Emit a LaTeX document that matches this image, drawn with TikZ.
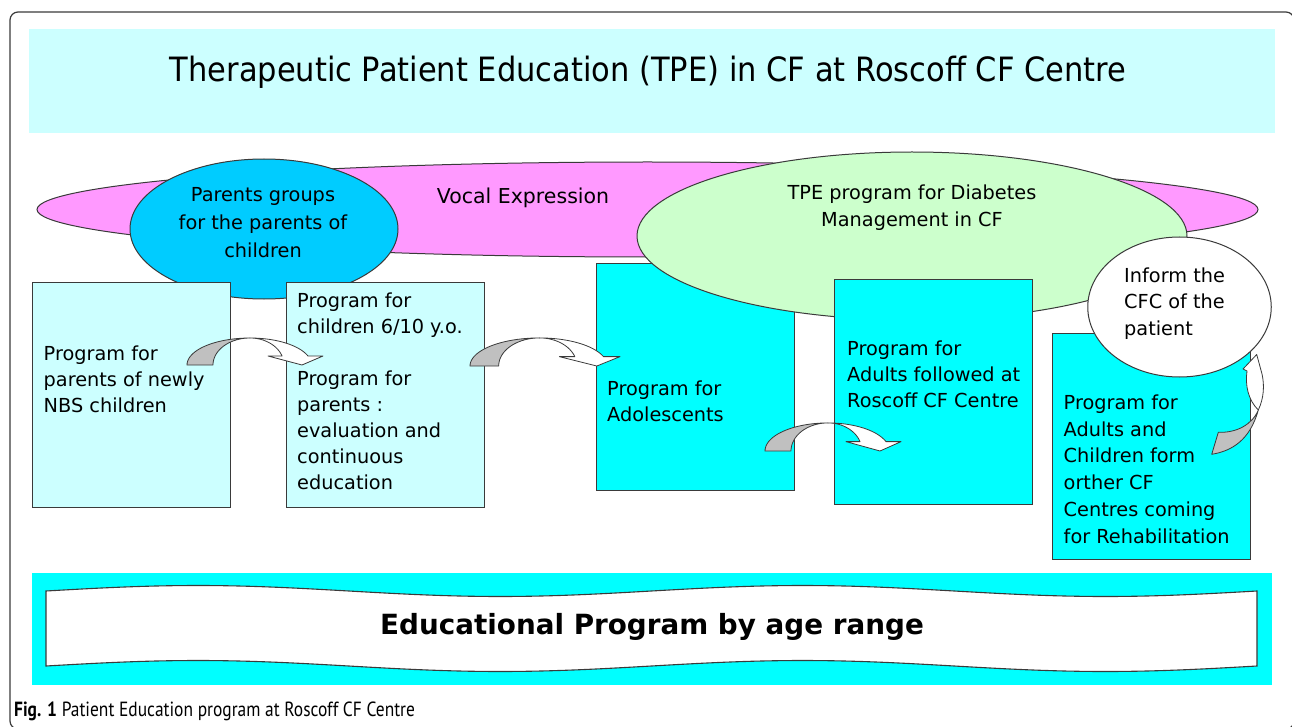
\documentclass[tikz,border=0pt]{standalone}
\usepackage{fontspec}
\setmainfont{DejaVu Sans}
\newfontfamily\titlefont[FakeStretch=0.91]{DejaVu Sans}
\newfontfamily\capfont[FakeStretch=0.85]{PT Sans}
\usetikzlibrary{shapes.geometric}

\definecolor{paleCyan}{HTML}{CCFFFF}
\definecolor{aqua}{HTML}{00FFFF}
\definecolor{pinkish}{HTML}{FF99FF}
\definecolor{skyBlue}{HTML}{00CCFF}
\definecolor{paleGreen}{HTML}{CCFFCC}
\definecolor{arrowGray}{HTML}{C0C0C0}
\definecolor{edge}{HTML}{3A3A3A}

% stacked lines whose first baseline is the node's base
\newcommand\leftlines[1]{\begin{tabular}[t]{@{}l@{}}#1\end{tabular}}
\newcommand\midlines[1]{\begin{tabular}[t]{@{}c@{}}#1\end{tabular}}

\tikzset{
  box/.style={draw=edge, line width=1pt, rectangle, inner sep=0pt, minimum width=198pt},
  oval/.style={draw=edge, line width=1pt, ellipse, inner sep=0pt},
  body/.style={inner sep=0pt, font=\fontsize{19.3}{26}\selectfont},
  ribbon/.style={draw=edge, line width=0.8pt, line join=round},
}

% curved block arrow: grey rising tail, white falling part with head
\newcommand\ribbonarrow[4]{%
  \begin{scope}[shift={(#1,#2)}, xscale=#3, yscale=-#4]
    \filldraw[ribbon, fill=arrowGray] (0,0)
      -- plot[domain=180:90, samples=25] ({63+63*cos(\x)},{27*sin(\x)})
      -- plot[domain=90:180, samples=25] ({63+37*cos(\x)},{27*sin(\x)})
      -- cycle;
    \filldraw[ribbon, fill=white] (63,27)
      -- plot[domain=90:19.47, samples=25] ({63+61.5*cos(\x)},{27*sin(\x)})
      -- (136,9) -- (115,0) -- (81,9)
      -- plot[domain=19.47:90, samples=25] ({63+34*cos(\x)},{27*sin(\x)})
      -- cycle;
  \end{scope}}

\begin{document}
\begin{tikzpicture}[x=1pt, y=-1pt]
  \useasboundingbox (0,0) rectangle (1292,727);

  % outer frame
  \draw[edge, line width=1.2pt, rounded corners=8pt] (10,729) rectangle (1294,12);

  % title band
  \fill[paleCyan] (29,29) rectangle (1275,133.3);
  \node[anchor=base, inner sep=0pt, font=\titlefont\fontsize{33.5}{40}\selectfont] (title) at (648,81.7)
    {Therapeutic Patient Education (TPE) in CF at Roscoff CF Centre};

  % bottom band with wavy banner
  \fill[aqua] (32,573) rectangle (1272,685);
  \filldraw[fill=white, draw=edge, line width=1.1pt]
    plot[domain=46:1257, samples=90] (\x,{591-5.5*sin((\x-46)/605.5*360)})
    -- plot[domain=1257:46, samples=90] (\x,{666-5.5*sin((\x-46)/605.5*360)})
    -- cycle;
  \node[anchor=base, inner sep=0pt, font=\bfseries\fontsize{27.8}{32}\selectfont] (range) at (652,634)
    {Educational Program by age range};

  % background ovals
  \node[oval, fill=pinkish, minimum width=1221pt, minimum height=95pt] (vocal) at (647.5,209.5) {};
  \node[oval, fill=skyBlue, minimum width=268pt, minimum height=140pt] (parents) at (264,229) {};

  % boxes
  \node[box, fill=paleCyan, minimum height=225pt] (b1) at (131,394.5) {};
  \node[box, fill=paleCyan, minimum height=225pt] (b2) at (385,394.5) {};
  \node[box, fill=aqua, minimum height=227.5pt] (b3) at (695,376.75) {};
  \node[oval, fill=paleGreen, minimum width=550pt, minimum height=168pt] (diab) at (912,236) {};
  \node[box, fill=aqua, minimum height=225pt] (b4) at (933,391.5) {};
  \node[box, fill=aqua, minimum height=225.5pt] (b5) at (1151,446.25) {};
  \node[oval, fill=white, minimum width=183.5pt, minimum height=140pt] (inform) at (1179.5,307) {};

  % texts
  \node[anchor=base, inner sep=0pt, font=\fontsize{20.5}{26}\selectfont] (vocalT) at (523,204) {Vocal Expression};
  \node[body, anchor=base, font=\fontsize{19.3}{27.8}\selectfont] (parentsT) at (263,201.7)
    {\midlines{Parents groups\\for the parents of\\children}};
  \node[body, anchor=base, font=\fontsize{19.3}{26.7}\selectfont] (diabT) at (912,200)
    {\midlines{TPE program for Diabetes\\Management in CF}};
  \node[body, anchor=base west] (b1T) at (43.5,360)
    {\leftlines{Program for\\parents of newly\\NBS children}};
  \node[body, anchor=base west] (b2T) at (297,307.3)
    {\leftlines{Program for\\children 6/10 y.o.\\[26pt]Program for\\parents :\\evaluation and\\continuous\\education}};
  \node[body, anchor=base west] (b3T) at (607,395.7)
    {\leftlines{Program for\\Adolescents}};
  \node[body, anchor=base west, font=\fontsize{19.3}{26.3}\selectfont] (b4T) at (847,355)
    {\leftlines{Program for\\Adults followed at\\Roscoff CF Centre}};
  \node[body, anchor=base west, font=\fontsize{19.3}{26.8}\selectfont] (b5T) at (1063.5,409.3)
    {\leftlines{Program for\\Adults and\\Children form\\orther CF\\Centres coming\\for Rehabilitation}};
  \node[body, anchor=base west, font=\fontsize{19.3}{26.2}\selectfont] (informT) at (1124,282.7)
    {\leftlines{Inform the\\CFC of the\\patient}};

  % curved arrows between the programs
  \ribbonarrow{187}{365}{1}{1}
  \ribbonarrow{470}{366}{1.103}{1.04}
  \ribbonarrow{765}{451}{1}{1.04}

  % rising arrow towards the CFC circle
  \filldraw[ribbon, fill=arrowGray] (1211.7,454.3)
    .. controls (1232,451) and (1250,440) .. (1258.3,410)
    .. controls (1252,425) and (1236,433) .. (1218.3,432.3) -- cycle;
  \filldraw[ribbon, fill=white] (1258.3,410)
    .. controls (1264,398) and (1264.5,385) .. (1262,374)
    -- (1256.7,354.5) -- (1243,369) -- (1247,371)
    .. controls (1245,385) and (1248,400) .. (1258.3,410) -- cycle;

  % caption
  \node[anchor=base west, inner sep=0pt, font=\capfont\fontsize{20.5}{24}\selectfont] (cap) at (14,716.7)
    {\textbf{Fig. 1} Patient Education program at Roscoff CF Centre};
\end{tikzpicture}
\end{document}
